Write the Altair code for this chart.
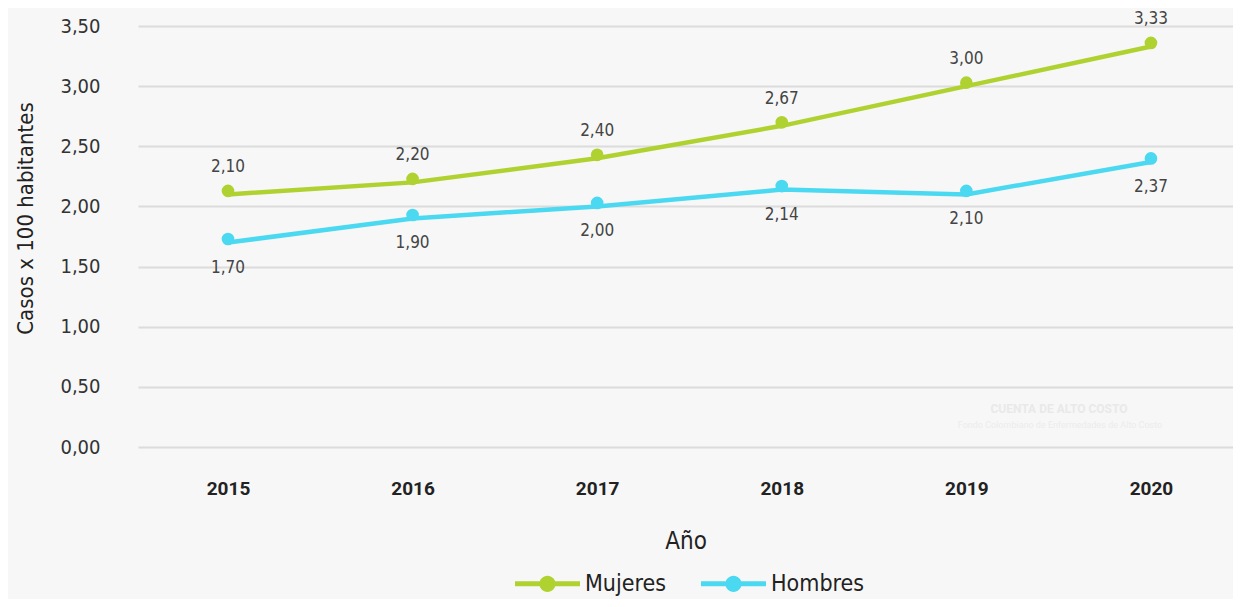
import altair as alt
import pandas as pd

years = ["2015", "2016", "2017", "2018", "2019", "2020"]
mujeres = [2.10, 2.20, 2.40, 2.67, 3.00, 3.33]
hombres = [1.70, 1.90, 2.00, 2.14, 2.10, 2.37]
series = ["Mujeres", "Hombres"]
colors = ["#afd230", "#4bd9f1"]
y_ticks = [0, 0.5, 1, 1.5, 2, 2.5, 3, 3.5]
watermark = ["CUENTA DE ALTO COSTO", "Fondo Colombiano de Enfermedades de Alto Costo"]

rows = []
for s, vals in zip(series, [mujeres, hombres]):
    for yr, v in zip(years, vals):
        rows.append({"Año": yr, "Serie": s, "Valor": v,
                     "Etiqueta": f"{v:.2f}".replace(".", ",")})
df = pd.DataFrame(rows)

FONT = "'Liberation Sans Narrow', 'DejaVu Sans Condensed', 'Roboto Condensed', Roboto, sans-serif"
BOLD_FONT = "Roboto, 'DejaVu Sans', sans-serif"

x = alt.X("Año:O",
          scale=alt.Scale(type="point", padding=0.466, align=0.523),
          axis=alt.Axis(title="Año", labelAngle=0, labelFontSize=19, labelFontWeight="bold",
                        labelColor="#222222", labelFont=BOLD_FONT, labelPadding=32,
                        ticks=False, domain=False, grid=False,
                        titleFontSize=24, titleFontWeight="normal", titleColor="#222222",
                        titleFont=FONT, titleY=101, titleBaseline="alphabetic"))
y = alt.Y("Valor:Q",
          scale=alt.Scale(domain=[0, 3.5]),
          axis=alt.Axis(values=y_ticks,
                        labelExpr="replace(format(datum.value, '.2f'), '.', ',')",
                        grid=True, gridColor="#dcdcdc", gridWidth=2,
                        domain=False, ticks=False, labelPadding=38,
                        labelFontSize=20, labelColor="#333333", labelFont=FONT,
                        title="Casos x 100 habitantes", titleFontSize=22,
                        titleFontWeight="normal", titleColor="#222222", titleFont=FONT,
                        titleAngle=270, titleX=-106, titleY=192,
                        titleBaseline="alphabetic"))

color_scale = alt.Scale(domain=series, range=colors)

legend_path = ("M-1,-0.077 L1,-0.077 L1,0.077 L-1,0.077 Z "
               "M0.25,0 A0.25,0.25 0 1,1 -0.25,0 A0.25,0.25 0 1,1 0.25,0 Z")
legend = alt.Legend(title=None, orient="none", legendX=377, legendY=525,
                    direction="horizontal", symbolType=legend_path,
                    symbolSize=4225, symbolStrokeWidth=0, symbolOpacity=1,
                    labelFontSize=23, labelColor="#222222", labelFont=FONT,
                    labelOffset=5, columnPadding=35, padding=0)

base = alt.Chart(df)

lines = base.mark_line(strokeWidth=4.5).encode(
    x=x, y=y,
    stroke=alt.Stroke("Serie:N", scale=color_scale, legend=legend),
)

points = base.mark_circle(size=160, opacity=1, yOffset=-3.5).encode(
    x=x, y=y,
    fill=alt.Fill("Serie:N", scale=color_scale, legend=legend),
)

labels_m = base.transform_filter(alt.datum.Serie == "Mujeres").mark_text(
    dy=-27, fontSize=17, color="#444444", font=FONT, baseline="middle"
).encode(x=x, y=y, text="Etiqueta:N")

labels_h = base.transform_filter(alt.datum.Serie == "Hombres").mark_text(
    dy=25, fontSize=17, color="#444444", font=FONT, baseline="middle"
).encode(x=x, y=y, text="Etiqueta:N")

wm_df = pd.DataFrame({"t": watermark, "i": [0, 1]})
wm1 = alt.Chart(wm_df).transform_filter(alt.datum.i == 0).mark_text(
    fontSize=12, fontWeight="bold", color="#e9e9e9", font="Roboto, sans-serif"
).encode(text="t:N", x=alt.value(921), y=alt.value(383))
wm2 = alt.Chart(wm_df).transform_filter(alt.datum.i == 1).mark_text(
    fontSize=9, color="#ececec", font="Roboto, sans-serif"
).encode(text="t:N", x=alt.value(922), y=alt.value(399))

chart = alt.layer(wm1, wm2, lines, points, labels_m, labels_h).properties(
    width=1095, height=421,
    padding={"left": 130, "top": 18, "right": 0, "bottom": 152},
    autosize=alt.AutoSizeParams(type="none"),
).configure(background="#f7f7f7").configure_view(stroke=None)

chart.save("out.html", embed_options={"renderer": "svg", "actions": False})
